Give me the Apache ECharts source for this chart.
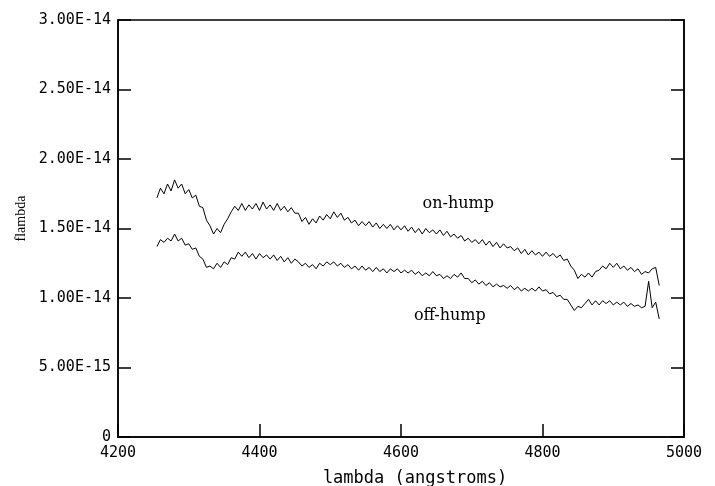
<!DOCTYPE html>
<html>
<head>
<meta charset="utf-8">
<script src="https://cdn.jsdelivr.net/npm/echarts@6/dist/echarts.min.js"></script>
<style>
  html, body { margin: 0; padding: 0; background: #fff; }
  #chart { width: 715px; height: 486px; }
</style>
</head>
<body>
<div id="chart"></div>
<script>
// wavelength grid (angstroms): first sample and spacing
var lambdaStart = 4255
var lambdaStep = 5
// flux values, in units of 1e-14
var fluxUnit = 1e-14

var onHump = [
  1.72, 1.79, 1.75, 1.82, 1.77, 1.85, 1.79, 1.82, 1.75, 1.78,
  1.72, 1.74, 1.66, 1.65, 1.56, 1.52, 1.46, 1.50, 1.47, 1.53,
  1.57, 1.62, 1.66, 1.63, 1.68, 1.63, 1.67, 1.64, 1.68, 1.63,
  1.69, 1.64, 1.67, 1.63, 1.68, 1.63, 1.66, 1.62, 1.65, 1.61,
  1.61, 1.55, 1.58, 1.53, 1.57, 1.54, 1.59, 1.56, 1.60, 1.57,
  1.62, 1.58, 1.61, 1.56, 1.58, 1.54, 1.56, 1.52, 1.55, 1.52,
  1.55, 1.51, 1.54, 1.50, 1.53, 1.50, 1.53, 1.49, 1.52, 1.49,
  1.52, 1.48, 1.51, 1.47, 1.50, 1.46, 1.50, 1.47, 1.49, 1.46,
  1.49, 1.45, 1.48, 1.44, 1.46, 1.43, 1.45, 1.41, 1.43, 1.40,
  1.42, 1.39, 1.42, 1.38, 1.41, 1.37, 1.40, 1.36, 1.39, 1.36,
  1.37, 1.34, 1.36, 1.32, 1.35, 1.31, 1.34, 1.31, 1.33, 1.30,
  1.33, 1.30, 1.32, 1.29, 1.31, 1.27, 1.28, 1.23, 1.20, 1.14,
  1.17, 1.15, 1.18, 1.15, 1.19, 1.20, 1.23, 1.21, 1.25, 1.22,
  1.25, 1.21, 1.23, 1.20, 1.22, 1.19, 1.21, 1.17, 1.19, 1.18,
  1.21, 1.22, 1.09
]

var offHump = [
  1.37, 1.42, 1.40, 1.43, 1.41, 1.46, 1.41, 1.43, 1.38, 1.39,
  1.35, 1.36, 1.30, 1.28, 1.22, 1.23, 1.21, 1.25, 1.22, 1.26,
  1.24, 1.29, 1.28, 1.33, 1.30, 1.33, 1.29, 1.32, 1.28, 1.32,
  1.29, 1.31, 1.28, 1.31, 1.27, 1.30, 1.26, 1.29, 1.25, 1.28,
  1.26, 1.23, 1.25, 1.22, 1.24, 1.21, 1.25, 1.23, 1.26, 1.24,
  1.26, 1.23, 1.25, 1.22, 1.24, 1.21, 1.23, 1.20, 1.23, 1.20,
  1.22, 1.19, 1.22, 1.19, 1.21, 1.18, 1.21, 1.19, 1.21, 1.18,
  1.20, 1.18, 1.20, 1.17, 1.19, 1.16, 1.18, 1.16, 1.19, 1.16,
  1.17, 1.14, 1.16, 1.14, 1.17, 1.15, 1.18, 1.14, 1.14, 1.11,
  1.13, 1.10, 1.12, 1.09, 1.11, 1.08, 1.10, 1.08, 1.09, 1.07,
  1.09, 1.06, 1.08, 1.05, 1.07, 1.05, 1.07, 1.05, 1.08, 1.05,
  1.06, 1.03, 1.04, 1.01, 1.02, 0.99, 0.99, 0.95, 0.91, 0.94,
  0.93, 0.96, 0.99, 0.95, 0.98, 0.95, 0.98, 0.96, 0.98, 0.95,
  0.97, 0.95, 0.97, 0.94, 0.96, 0.94, 0.95, 0.93, 0.94, 1.12,
  0.93, 0.97, 0.85
]

// label anchors [lambda, flux in 1e-14]
var onHumpLabel = [4681, 1.676]
var offHumpLabel = [4669, 0.87]

function toPairs (values) {
  return values.map(function (v, i) {
    return [lambdaStart + lambdaStep * i, v * fluxUnit]
  })
}

function tagPoint (text, at) {
  return {
    symbol: 'circle',
    symbolSize: 0,
    silent: true,
    label: {
      show: true,
      position: 'inside',
      formatter: text,
      color: '#000',
      fontFamily: 'DejaVu Serif',
      fontSize: 16
    },
    data: [{ coord: [at[0], at[1] * fluxUnit] }]
  }
}

var chart = echarts.init(document.getElementById('chart'))

var tickStyle = { color: '#000', width: 1.5 }
var monoFont = 'DejaVu Sans Mono'

chart.setOption({
  animation: false,
  backgroundColor: '#fff',
  grid: {
    left: 118,
    right: 31,
    top: 20,
    bottom: 49,
    show: true,
    borderColor: '#000',
    borderWidth: 1.5,
    outerBoundsMode: 'none'
  },
  xAxis: {
    type: 'value',
    min: 4200,
    max: 5000,
    interval: 200,
    name: 'lambda (angstroms)',
    nameLocation: 'middle',
    nameGap: 33,
    nameTextStyle: { color: '#000', fontFamily: monoFont, fontSize: 17, padding: [0, 0, 0, 28] },
    axisLine: { show: true, lineStyle: tickStyle },
    axisTick: { show: true, inside: true, length: 13, lineStyle: tickStyle },
    axisLabel: {
      color: '#000',
      fontFamily: monoFont,
      fontSize: 15,
      margin: 9,
      formatter: function (v) { return String(v) }
    },
    splitLine: { show: false }
  },
  yAxis: [
    {
      type: 'value',
      min: 0,
      max: 3e-14,
      interval: 5e-15,
      name: 'flambda',
      nameLocation: 'middle',
      nameRotate: 90,
      nameGap: 90,
      nameTextStyle: { color: '#000', fontFamily: 'Liberation Serif', fontSize: 14, padding: [0, 0, 0, 20] },
      axisLine: { show: true, lineStyle: tickStyle },
      axisTick: { show: true, inside: true, length: 13, lineStyle: tickStyle },
      axisLabel: {
        color: '#000',
        fontFamily: monoFont,
        fontSize: 15,
        margin: 7,
        formatter: function (v) {
          return v === 0 ? '0' : v.toExponential(2).toUpperCase()
        }
      },
      splitLine: { show: false }
    },
    {
      type: 'value',
      position: 'right',
      min: 0,
      max: 3e-14,
      interval: 5e-15,
      axisLine: { show: true, lineStyle: tickStyle },
      axisTick: { show: true, inside: true, length: 13, lineStyle: tickStyle },
      axisLabel: { show: false },
      splitLine: { show: false }
    }
  ],
  series: [
    {
      name: 'on-hump',
      type: 'line',
      data: toPairs(onHump),
      showSymbol: false,
      lineStyle: { color: '#000', width: 1 },
      markPoint: tagPoint('on-hump', onHumpLabel)
    },
    {
      name: 'off-hump',
      type: 'line',
      data: toPairs(offHump),
      showSymbol: false,
      lineStyle: { color: '#000', width: 1 },
      markPoint: tagPoint('off-hump', offHumpLabel)
    }
  ]
})
</script>
</body>
</html>
